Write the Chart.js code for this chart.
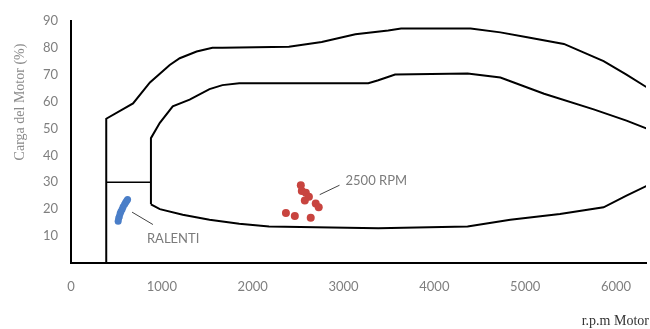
<!DOCTYPE html>
<html>
<head>
<meta charset="utf-8">
<script src="https://cdn.jsdelivr.net/npm/chart.js@4.4.1/dist/chart.umd.min.js"></script>
<style>
    html, body { margin: 0; padding: 0; background: #fff; }
    #chart { display: block; }
</style>
</head>
<body>
<canvas id="chart" width="650" height="329"></canvas>
<script>
const xTicks = [0, 1000, 2000, 3000, 4000, 5000, 6000];
const yTicks = [10, 20, 30, 40, 50, 60, 70, 80, 90];

// outer envelope (left wall + top curve)
const outerRpm = [388, 388, 683, 869, 1087, 1197, 1383, 1557, 1667, 2399, 2760, 3131, 3492, 3634, 4399, 4727, 5022, 5426, 5863, 6115, 6333, 6552];
const outerLoad = [0, 53.6, 59.3, 67.1, 73.6, 76.1, 78.6, 80, 80, 80.4, 82.1, 85, 86.4, 87.1, 87.1, 85.7, 83.9, 81.4, 75, 70, 65.4, 60.7];

// inner envelope, bottom part (right to left) then wall and top part
const innerBottomRpm = [6552, 6333, 6115, 5863, 5383, 4836, 4366, 3383, 2180, 1852, 1525, 1230, 978, 880];
const innerBottomLoad = [32.1, 28.6, 25, 20.7, 18.2, 16.1, 13.6, 12.9, 13.6, 14.6, 16.1, 17.9, 20, 21.8];
const innerTopRpm = [880, 880, 978, 1120, 1306, 1525, 1667, 1852, 3273, 3383, 3568, 4366, 4727, 5208, 5754, 6115, 6333, 6552];
const innerTopLoad = [21.8, 46.4, 52.1, 58.2, 60.7, 64.6, 66.1, 66.8, 66.8, 67.9, 70, 70.4, 68.9, 62.9, 57.1, 52.9, 50, 47.1];

// idle step line
const stepRpm = [388, 880];
const stepLoad = [30, 30];

// measured points
const idleRpm = [519, 525, 532, 541, 550, 563, 574, 590, 601, 612, 623];
const idleLoad = [15.5, 16.6, 17.3, 18.4, 19.1, 20.0, 20.9, 21.8, 22.5, 23.0, 23.6];
const cruiseRpm = [2530, 2541, 2585, 2619, 2574, 2694, 2727, 2366, 2464, 2639];
const cruiseLoad = [28.9, 26.8, 26.1, 24.6, 23.2, 22.1, 20.7, 18.6, 17.5, 16.8];

// callouts
const noteText = ['RALENTI', '2500 RPM'];
const noteRpm = [836, 3022];
const noteLoad = [8.9, 30.7];
const leaderRpm = [[672, 902], [2738, 2956]];
const leaderLoad = [[18.9, 14.3], [25.4, 28.9]];

const toPoints = (xs, ys) => xs.map((x, i) => ({ x, y: ys[i] }));

const lineSet = (data, width, color = '#000') => ({
    data,
    showLine: true,
    borderColor: color,
    borderWidth: width,
    pointRadius: 0,
    tension: 0,
    fill: false,
});

const labelPlugin = {
    id: 'callouts',
    afterDatasetsDraw(chart) {
        const { ctx, scales: { x, y } } = chart;
        ctx.save();
        ctx.font = '13px Lato';
        ctx.fillStyle = '#7b7b7b';
        ctx.textBaseline = 'middle';
        ctx.textAlign = 'left';
        noteText.forEach((text, i) => {
            ctx.fillText(text, x.getPixelForValue(noteRpm[i]), y.getPixelForValue(noteLoad[i]));
        });

        // axis titles
        ctx.font = '14px "Liberation Serif"';
        ctx.fillStyle = '#333';
        ctx.textAlign = 'right';
        ctx.fillText('r.p.m Motor', 649, 321);

        ctx.fillStyle = '#8a8a8a';
        ctx.textAlign = 'center';
        ctx.translate(20, 102);
        ctx.rotate(-Math.PI / 2);
        ctx.fillText('Carga del Motor (%)', 0, 0);
        ctx.restore();
    },
};

new Chart(document.getElementById('chart'), {
    type: 'scatter',
    data: {
        datasets: [
            {
                data: toPoints(cruiseRpm, cruiseLoad),
                backgroundColor: '#c8443f',
                borderWidth: 0,
                pointRadius: 4,
            },
            {
                data: toPoints(idleRpm, idleLoad),
                backgroundColor: '#4a7ec8',
                borderWidth: 0,
                pointRadius: 3.5,
            },
            lineSet(toPoints(leaderRpm[0], leaderLoad[0]), 1, '#444'),
            lineSet(toPoints(leaderRpm[1], leaderLoad[1]), 1, '#444'),
            lineSet(toPoints(outerRpm, outerLoad), 2),
            lineSet(toPoints(innerBottomRpm, innerBottomLoad), 2),
            lineSet(toPoints(innerTopRpm, innerTopLoad), 2),
            lineSet(toPoints(stepRpm, stepLoad), 1.3),
        ],
    },
    options: {
        responsive: false,
        animation: false,
        devicePixelRatio: 1,
        layout: { padding: { top: 11, right: 0, left: 0, bottom: 0 } },
        plugins: {
            legend: { display: false },
            tooltip: { enabled: false },
        },
        scales: {
            x: {
                type: 'linear',
                min: 0,
                max: 6330,
                afterBuildTicks: (scale) => { scale.ticks = xTicks.map((value) => ({ value })); },
                afterFit: (scale) => { scale.height = 66; },
                grid: { display: false, drawTicks: false },
                border: { display: true, color: '#000', width: 2 },
                ticks: {
                    autoSkip: false,
                    maxRotation: 0,
                    padding: 16,
                    color: '#7f7f7f',
                    font: { family: 'Lato', size: 13 },
                    callback: (value) => String(value),
                },
            },
            y: {
                type: 'linear',
                min: 0,
                max: 90,
                afterBuildTicks: (scale) => { scale.ticks = yTicks.map((value) => ({ value })); },
                afterFit: (scale) => { scale.width = 71; },
                grid: { display: false, drawTicks: false },
                border: { display: true, color: '#000', width: 2 },
                ticks: {
                    padding: 13,
                    color: '#7f7f7f',
                    font: { family: 'Lato', size: 13 },
                    callback: (value) => String(value),
                },
            },
        },
    },
    plugins: [labelPlugin],
});
</script>
</body>
</html>
